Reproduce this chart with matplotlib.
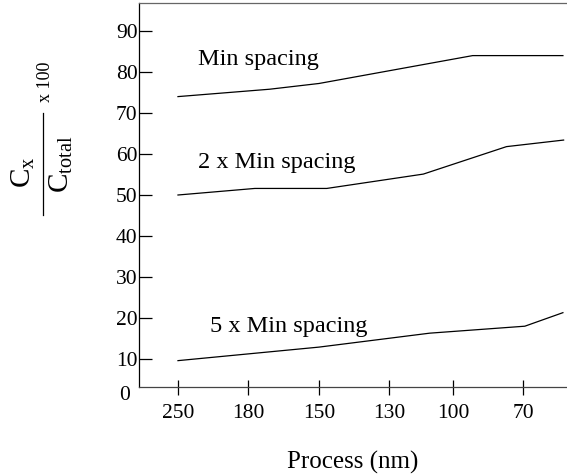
import matplotlib.pyplot as plt
from matplotlib.lines import Line2D

plt.rcParams['font.family'] = ['Liberation Serif', 'DejaVu Serif']
plt.rcParams['mathtext.fontset'] = 'custom'
plt.rcParams['mathtext.rm'] = 'Liberation Serif'
plt.rcParams['mathtext.it'] = 'Liberation Serif'

# process nodes on the x axis (positions along the category axis)
tick_pos = [0, 1, 2, 3, 3.9, 4.9]
tick_labels = ['250', '180', '150', '130', '100', '70']

# traced curves: x position along the axis, percentage of total capacitance
min_x = [0, 1.3, 2.0, 4.18, 5.46]
min_y = [74.0, 75.8, 77.2, 84.0, 84.0]

two_x = [0, 1.09, 2.11, 3.48, 4.66, 5.47]
two_y = [50.0, 51.6, 51.6, 55.1, 61.8, 63.4]

five_x = [0, 2.0, 3.57, 4.92, 5.46]
five_y = [9.6, 12.9, 16.3, 18.0, 21.3]

fig = plt.figure(figsize=(5.67, 4.76), dpi=100)
ax = fig.add_axes([139/567, 89/476, 428/567, 384/476])

for xs, ys in [(min_x, min_y), (two_x, two_y), (five_x, five_y)]:
    ax.plot(xs, ys, color='black', linewidth=0.9)

ax.set_xlim(-0.553, 5.518)
ax.set_ylim(3.17, 96.83)

ax.set_xticks(tick_pos)
ax.set_xticklabels(tick_labels)
ax.set_yticks([10, 20, 30, 40, 50, 60, 70, 80, 90])
ax.tick_params(axis='y', direction='in', length=9.4, width=0.9, pad=1, labelsize=15.5)
ax.tick_params(axis='x', direction='inout', length=10.8, width=0.9, pad=7, labelsize=15.5)

ax.spines['right'].set_visible(False)
ax.spines['top'].set_color('#666666')
ax.spines['left'].set_color('black')
ax.spines['bottom'].set_color('#444444')
for s in ax.spines.values():
    s.set_linewidth(0.9)

ax.text(0.28, 81.7, 'Min spacing', fontsize=17.5)
ax.text(0.28, 56.6, '2 x Min spacing', fontsize=17.5)
ax.text(0.45, 16.7, '5 x Min spacing', fontsize=17.5)

ax.set_xlabel('Process (nm)', fontsize=18, labelpad=20)

fig.text(125/567, 1 - 395/476, '0', fontsize=15.5, ha='center', va='center')

# rotated fraction label on the left
fig.text(23/567, 1 - 172/476, r'C$_{\mathrm{x}}$', rotation=90, fontsize=21,
         ha='center', va='center')
fig.text(61/567, 1 - 164/476, r'C$_{\mathrm{total}}$', rotation=90, fontsize=21,
         ha='center', va='center')
fig.text(46/567, 1 - 82/476, 'x 100', rotation=90, fontsize=13,
         ha='center', va='center')
fig.add_artist(Line2D([43/567, 43/567], [1 - 113/476, 1 - 215/476],
                      color='black', linewidth=0.9))

fig.savefig('out.png', dpi=100)
